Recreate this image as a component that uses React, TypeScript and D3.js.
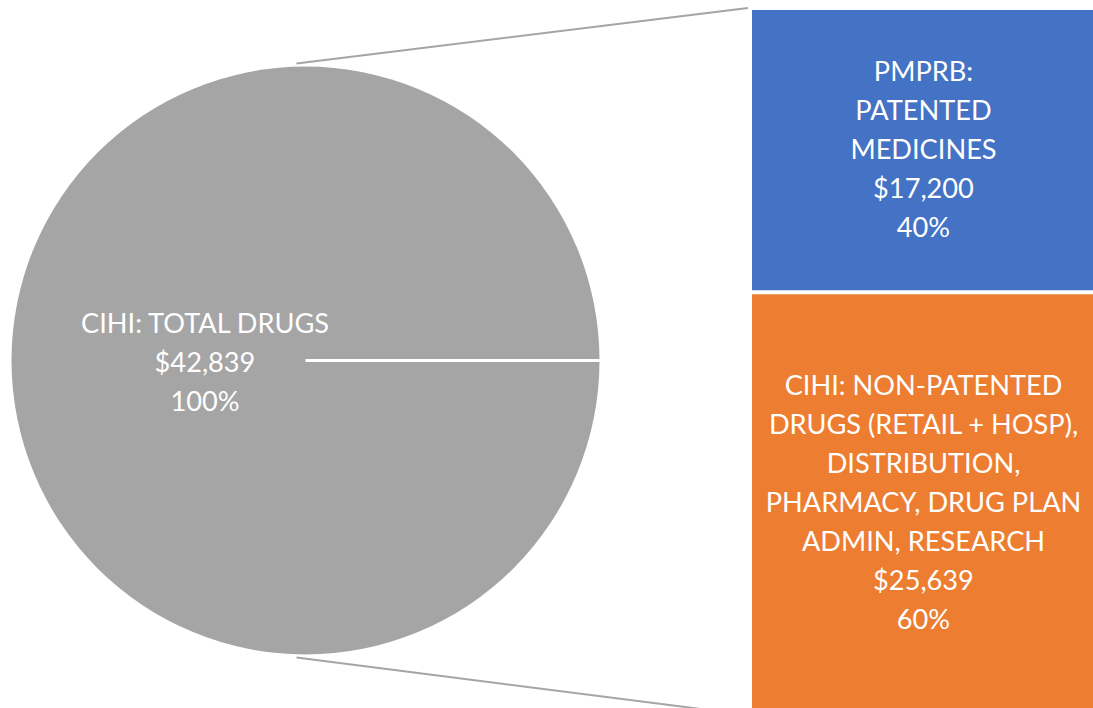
import React from "react";
import * as d3 from "d3";

const pieLabel = ["CIHI: TOTAL DRUGS", "$42,839", "100%"];
const totalValue = 42839;
const barCategories = ["PMPRB", "CIHI_NON"];
const barValues = [17200, 25639];
const barLabels = [
  ["PMPRB:", "PATENTED", "MEDICINES", "$17,200", "40%"],
  ["CIHI: NON-PATENTED", "DRUGS (RETAIL + HOSP),", "DISTRIBUTION,", "PHARMACY, DRUG PLAN", "ADMIN, RESEARCH", "$25,639", "60%"],
];
const barColors = ["#4472C4", "#ED7D31"];

const W = 1093;
const H = 708;

export default function App() {
  const cx = 305.5;
  const cy = 360.5;
  const r = 294;
  const barX0 = 752;
  const barX1 = 1093;
  const barTop = 10;
  const barBottom = 713;
  const font = "Lato, 'Open Sans', sans-serif";
  const fs = 27.2;
  const lh = 39;

  const y = d3.scaleLinear().domain([0, totalValue]).range([barTop, barBottom]);
  const stack = d3.cumsum(barValues);
  const arc = d3.arc<any>().innerRadius(0).outerRadius(r);
  const pieData = d3.pie<number>().sort(null).startAngle(Math.PI / 2).endAngle(Math.PI / 2 + 2 * Math.PI)([totalValue]);

  return (
    <svg width={W} height={H} style={{ position: "absolute", left: 0, top: 0 }}>
      <g transform={`translate(${cx},${cy})`}>
        {pieData.map((d, i) => (
          <path key={i} d={arc(d) as string} fill="#A5A5A5" />
        ))}
        <line x1={0} y1={0} x2={r + 1} y2={0} stroke="#fff" strokeWidth={3} />
      </g>
      <line x1={cx - 9} y1={cy - r - 3} x2={barX0 - 4} y2={y(0) - 2} stroke="#A5A5A5" strokeWidth={2} />
      <line x1={cx - 9} y1={cy + r + 3} x2={barX0 - 4} y2={y(totalValue) + 2} stroke="#A5A5A5" strokeWidth={2} />
      {barValues.map((v, i) => {
        const y0 = y(i === 0 ? 0 : stack[i - 1]);
        const y1 = y(stack[i]);
        const lines = barLabels[i];
        return (
          <g key={barCategories[i]}>
            <rect x={barX0} y={y0} width={barX1 - barX0} height={y1 - y0} fill={barColors[i]} />
            {i > 0 && <line x1={barX0} x2={barX1} y1={y0} y2={y0} stroke="#fff" strokeWidth={4} />}
            <text fill="#fff" fontFamily={font} fontSize={fs} textAnchor="middle">
              {lines.map((t, j) => (
                <tspan key={j} x={(barX0 + barX1) / 2 + 1} y={(i === 0 ? 150 : 503) + (j - (lines.length - 1) / 2) * lh + 9}>
                  {t}
                </tspan>
              ))}
            </text>
          </g>
        );
      })}
      <text fill="#fff" fontFamily={font} fontSize={fs} textAnchor="middle">
        {pieLabel.map((t, j) => (
          <tspan key={j} x={205} y={363 + (j - 1) * lh + 9}>
            {t}
          </tspan>
        ))}
      </text>
    </svg>
  );
}
